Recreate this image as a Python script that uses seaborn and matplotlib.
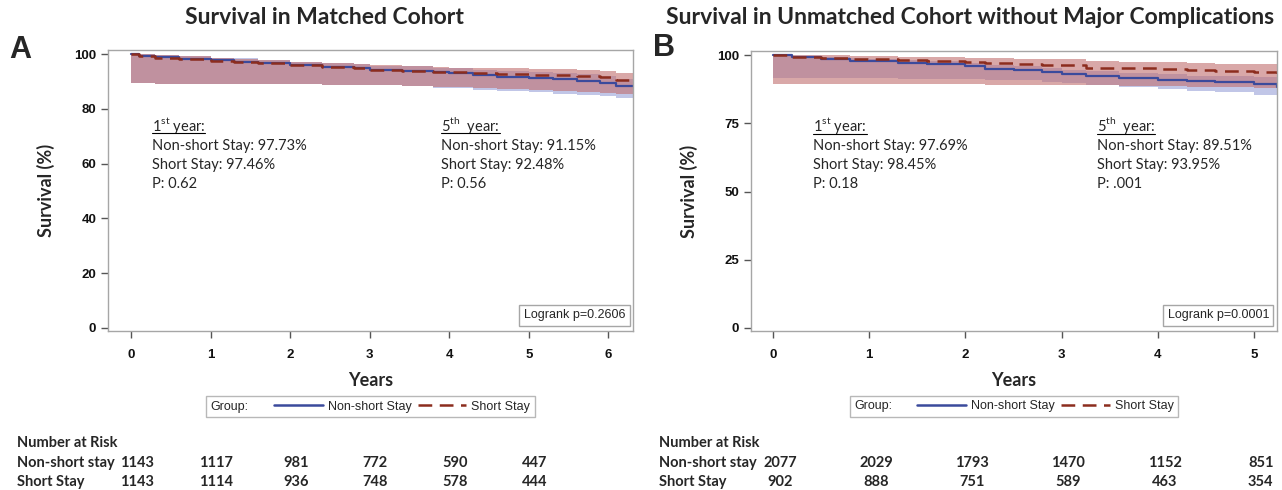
import matplotlib
matplotlib.use("Agg")
import matplotlib.pyplot as plt
import matplotlib.transforms as mtransforms
from matplotlib.lines import Line2D
from matplotlib.offsetbox import HPacker
import pandas as pd
import seaborn as sns

# ---- Panel A: matched cohort ----
a_time = [0, 0.1, 0.3, 0.6, 1.0, 1.3, 1.6, 2.0, 2.4, 2.8, 3.0, 3.4, 3.8, 4.0, 4.3, 4.6, 5.0, 5.3, 5.6, 5.9, 6.1, 6.31]
a_nonshort = [100, 99.4, 98.8, 98.3, 97.7, 97.3, 96.8, 96.0, 95.4, 94.8, 94.2, 93.8, 93.4, 93.0, 92.3, 91.8, 91.2, 90.8, 90.3, 89.6, 88.2, 88.2]
a_short = [100, 99.3, 98.7, 98.2, 97.5, 97.1, 96.6, 95.9, 95.3, 94.8, 94.3, 93.9, 93.6, 93.3, 93.0, 92.8, 92.5, 92.3, 92.0, 91.5, 90.4, 90.4]
a_nonshort_lo = [89.3, 89.3, 89.2, 89.2, 89.1, 89.1, 89.0, 89.0, 88.9, 88.8, 88.6, 88.2, 87.8, 87.5, 87.0, 86.6, 86.0, 85.6, 85.2, 84.7, 84.0, 84.0]
a_nonshort_hi = [100, 99.9, 99.6, 99.2, 98.7, 98.4, 98.0, 97.3, 96.8, 96.3, 95.8, 95.5, 95.1, 94.8, 94.2, 93.8, 93.3, 93.0, 92.6, 92.0, 90.9, 90.9]
a_short_lo = [89.3, 89.3, 89.2, 89.2, 89.1, 89.1, 89.0, 89.0, 88.9, 88.8, 88.7, 88.4, 88.1, 87.9, 87.5, 87.2, 86.8, 86.5, 86.2, 85.9, 85.6, 85.6]
a_short_hi = [100, 99.9, 99.6, 99.2, 98.6, 98.3, 97.9, 97.2, 96.7, 96.3, 95.9, 95.6, 95.3, 95.1, 94.9, 94.8, 94.6, 94.5, 94.3, 93.9, 93.1, 93.1]

# ---- Panel B: unmatched cohort without major complications ----
b_time = [0, 0.2, 0.5, 0.8, 1.0, 1.3, 1.6, 2.0, 2.2, 2.5, 2.8, 3.0, 3.25, 3.6, 4.0, 4.3, 4.6, 5.0, 5.24]
b_nonshort = [100, 99.2, 98.6, 98.0, 97.7, 97.2, 96.7, 96.0, 95.0, 94.4, 93.7, 93.0, 92.4, 91.7, 91.0, 90.4, 90.0, 89.5, 88.4]
b_short = [100, 99.4, 99.0, 98.7, 98.45, 98.2, 97.9, 97.5, 97.0, 96.8, 96.5, 96.2, 95.4, 95.1, 94.8, 94.5, 94.2, 93.95, 93.3]
b_nonshort_lo = [91.6, 91.6, 91.6, 91.5, 91.5, 91.4, 91.3, 91.2, 91.0, 90.8, 90.2, 89.6, 89.0, 88.3, 87.5, 87.0, 86.5, 85.5, 84.8]
b_nonshort_hi = [100, 99.7, 99.3, 98.8, 98.6, 98.2, 97.8, 97.2, 96.4, 95.9, 95.3, 94.7, 94.2, 93.6, 93.0, 92.5, 92.2, 91.8, 91.0]
b_short_lo = [89.3, 89.3, 89.3, 89.3, 89.3, 89.3, 89.3, 89.3, 89.2, 89.2, 89.1, 89.0, 88.9, 88.8, 88.5, 88.4, 88.2, 88.0, 87.8]
b_short_hi = [100, 100, 99.9, 99.7, 99.6, 99.4, 99.2, 99.0, 98.8, 98.7, 98.6, 98.5, 97.9, 97.6, 97.3, 97.1, 96.9, 96.7, 96.2]

# ---- Number at risk ----
a_risk_years = [0, 1, 2, 3, 4, 5]
a_risk_nonshort = [1143, 1117, 981, 772, 590, 447]
a_risk_short = [1143, 1114, 936, 748, 578, 444]
b_risk_years = [0, 1, 2, 3, 4, 5]
b_risk_nonshort = [2077, 2029, 1793, 1470, 1152, 851]
b_risk_short = [902, 888, 751, 589, 463, 354]

BLUE = "#3b4a9c"
RED = "#8c2d1e"
BLUE_FILL = "#8e98d4"
RED_FILL = "#c06f6f"
FRAME = "#a6a6a6"

sns.set_style("white")
plt.rcParams["font.family"] = ["Liberation Sans", "DejaVu Sans"]
plt.rcParams["mathtext.fontset"] = "custom"
plt.rcParams["mathtext.rm"] = "Lato"
CAL = ["Lato", "DejaVu Sans"]

fig = plt.figure(figsize=(12.82, 4.90), dpi=100)
W, H = 1282, 490
headings = []


def px_axes(left, top, right, bottom):
    return fig.add_axes([left / W, 1 - bottom / H, (right - left) / W, (bottom - top) / H])


def draw_panel(ax, t, ns, ss, ns_lo, ns_hi, ss_lo, ss_hi, xlim, yticks, logrank, notes):
    df = pd.DataFrame({"t": t + t, "s": ns + ss,
                       "Group": ["Non-short Stay"] * len(t) + ["Short Stay"] * len(t)})
    ax.fill_between(t, ns_lo, ns_hi, step="post", color=BLUE_FILL, alpha=0.55, lw=0)
    ax.fill_between(t, ss_lo, ss_hi, step="post", color=RED_FILL, alpha=0.6, lw=0)
    sns.lineplot(data=df[df.Group == "Non-short Stay"], x="t", y="s", ax=ax, color=BLUE,
                 lw=1.6, drawstyle="steps-post", legend=False)
    sns.lineplot(data=df[df.Group == "Short Stay"], x="t", y="s", ax=ax, color=RED,
                 lw=1.8, drawstyle="steps-post", linestyle=(0, (5.5, 3)), legend=False)
    ax.set_xlim(*xlim)
    ax.set_ylim(-1.1, 101.5)
    ax.set_yticks(yticks)
    ax.set_xticks(range(0, int(xlim[1]) + 1))
    for sp in ax.spines.values():
        sp.set_color(FRAME)
        sp.set_linewidth(1.0)
    ax.tick_params(axis="both", which="both", direction="out", length=5, width=1,
                   color="#555555", labelsize=9.5, labelcolor="#111111", bottom=True, left=True)
    ax.tick_params(axis="x", pad=8)
    for lab in ax.get_xticklabels() + ax.get_yticklabels():
        lab.set_fontweight("bold")
    ax.set_xlabel("Years", fontsize=13, fontweight="bold", family=CAL, labelpad=8)
    ax.set_ylabel("Survival (%)", fontsize=13, fontweight="bold", family=CAL, labelpad=14)
    ax.text(0.985, 0.035, logrank, transform=ax.transAxes, ha="right", va="bottom",
            fontsize=9, fontstretch="condensed",
            bbox=dict(boxstyle="square,pad=0.35", fc="white", ec=FRAME, lw=1))
    for x0, head, lines in notes:
        h = ax.text(x0, 0.713, head, transform=ax.transAxes, fontsize=10.5, family=CAL,
                    va="baseline")
        headings.append(h)
        for i, ln in enumerate(lines):
            ax.text(x0, 0.713 - 0.068 * (i + 1), ln, transform=ax.transAxes, fontsize=10.5,
                    family=CAL, va="baseline")

    handles = [Line2D([], [], color=BLUE, lw=1.8),
               Line2D([], [], color=RED, lw=1.8, linestyle=(0, (5.5, 3)))]
    leg = ax.legend(handles, ["Non-short Stay", "Short Stay"], ncol=2, title="Group:",
                    loc="upper center", bbox_to_anchor=(0.5, -0.21), frameon=True,
                    fancybox=False, edgecolor=FRAME, fontsize=9, title_fontsize=9,
                    handlelength=3.9, handletextpad=0.4, columnspacing=0.5, borderpad=0.35)
    leg.get_frame().set_linewidth(1.0)
    leg._legend_box.__class__ = HPacker
    leg._legend_box.align = "center"
    leg._legend_box.sep = 18


ax_a = px_axes(108, 50, 633, 331)
draw_panel(ax_a, a_time, a_nonshort, a_short, a_nonshort_lo, a_nonshort_hi, a_short_lo, a_short_hi,
           (-0.29, 6.31), [0, 20, 40, 60, 80, 100], "Logrank p=0.2606",
           [(0.083, r"1$^{\mathrm{st}}$ year:",
             ["Non-short Stay: 97.73%", "Short Stay: 97.46%", "P: 0.62"]),
            (0.635, r"5$^{\mathrm{th}}$  year:",
             ["Non-short Stay: 91.15%", "Short Stay: 92.48%", "P: 0.56"])])

ax_b = px_axes(751, 51, 1277, 331)
draw_panel(ax_b, b_time, b_nonshort, b_short, b_nonshort_lo, b_nonshort_hi, b_short_lo, b_short_hi,
           (-0.23, 5.24), [0, 25, 50, 75, 100], "Logrank p=0.0001",
           [(0.118, r"1$^{\mathrm{st}}$ year:",
             ["Non-short Stay: 97.69%", "Short Stay: 98.45%", "P: 0.18"]),
            (0.657, r"5$^{\mathrm{th}}$  year:",
             ["Non-short Stay: 89.51%", "Short Stay: 93.95%", "P: .001"])])

# titles and panel letters
fig.text(324 / W, 1 - 18 / H, "Survival in Matched Cohort", ha="center", va="center",
         fontsize=16.5, fontweight="bold", family=CAL)
fig.text(970 / W, 1 - 18 / H, "Survival in Unmatched Cohort without Major Complications",
         ha="center", va="center", fontsize=16.5, fontweight="bold", family=CAL)
fig.text(9 / W, 1 - 50 / H, "A", ha="left", va="center", fontsize=22, fontweight="bold")
fig.text(653 / W, 1 - 48 / H, "B", ha="left", va="center", fontsize=22, fontweight="bold")


# number at risk tables
def risk_table(ax, x_label, years, row1, row2):
    tr = mtransforms.blended_transform_factory(ax.transData, fig.transFigure)
    kw = dict(fontsize=10.5, fontweight="bold", family=CAL, va="center")
    fig.text(x_label / W, 1 - 443 / H, "Number at Risk", **kw)
    fig.text(x_label / W, 1 - 463 / H, "Non-short stay", **kw)
    fig.text(x_label / W, 1 - 482 / H, "Short Stay", **kw)
    for yr, n1, n2 in zip(years, row1, row2):
        ax.text(yr + 0.07, 1 - 463 / H, f"{n1}", transform=tr, ha="center", **kw)
        ax.text(yr + 0.07, 1 - 482 / H, f"{n2}", transform=tr, ha="center", **kw)


risk_table(ax_a, 17, a_risk_years, a_risk_nonshort, a_risk_short)
risk_table(ax_b, 659, b_risk_years, b_risk_nonshort, b_risk_short)

# underline the year headings
fig.canvas.draw()
renderer = fig.canvas.get_renderer()
for h in headings:
    bb = h.get_window_extent(renderer).transformed(fig.transFigure.inverted())
    x, y = h.get_transform().transform(h.get_position())
    y_fig = fig.transFigure.inverted().transform((x, y))[1] - 2.5 / H
    fig.add_artist(Line2D([bb.x0, bb.x1], [y_fig, y_fig], color="black", lw=0.8))

fig.savefig("out.png", dpi=100)
